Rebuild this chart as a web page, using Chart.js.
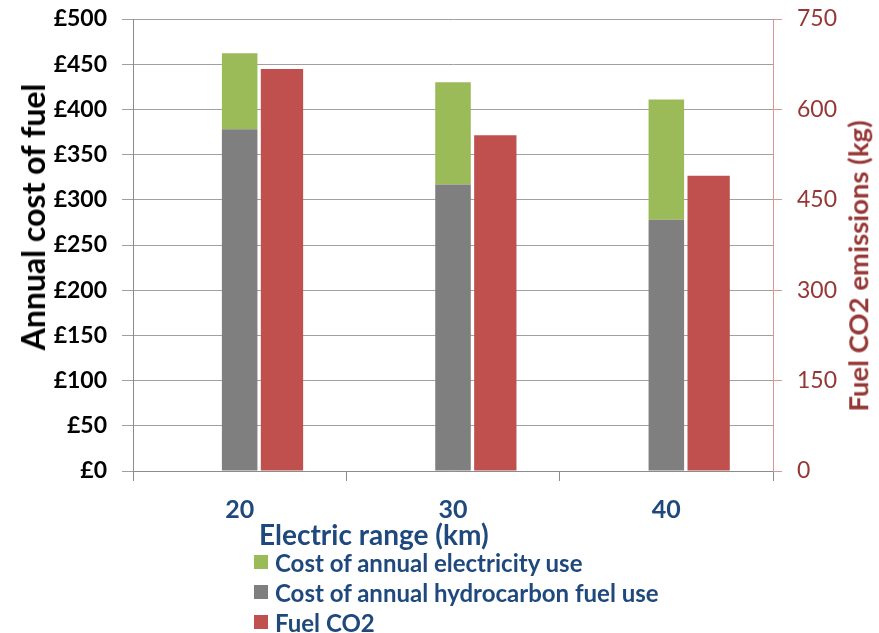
<!DOCTYPE html>
<html>
<head>
<meta charset="utf-8">
<script src="https://cdn.jsdelivr.net/npm/chart.js@4.4.1/dist/chart.umd.min.js"></script>
<style>
  html, body { margin: 0; padding: 0; background: #ffffff; }
  #wrap { position: relative; width: 879px; height: 633px; font-family: Lato, "Open Sans", sans-serif; }
  #chart { position: absolute; left: 0; top: 0; }
  .vtitle { position: absolute; white-space: nowrap; line-height: 1; font-weight: bold;
            transform: translate(-50%, -50%) rotate(-90deg); }
  #ytitle { left: 33px; top: 217px; font-size: 32px; color: #000000; }
  #y2title { left: 858px; top: 266px; font-size: 27.5px; color: #953735; }
  #xtitle { position: absolute; left: 259px; top: 520px; font-size: 28px; font-weight: bold;
            color: #1F497D; line-height: 1; white-space: nowrap; }
  #legend { position: absolute; left: 254px; top: 547px; margin: 0; padding: 0; list-style: none; }
  #legend li { height: 30px; display: flex; align-items: center; font-size: 24px; font-weight: bold;
               color: #1F497D; white-space: nowrap; }
  #legend .box { width: 14px; height: 14px; margin-right: 7px; flex: none; }
</style>
</head>
<body>
<div id="wrap">
  <canvas id="chart" width="879" height="633"></canvas>
  <div id="ytitle" class="vtitle">Annual cost of fuel</div>
  <div id="y2title" class="vtitle">Fuel CO2 emissions (kg)</div>
  <div id="xtitle">Electric range (km)</div>
  <ul id="legend"></ul>
</div>
<script>
// Electric range of the vehicle (km)
const ranges = ['20', '30', '40'];
// Annual cost (£) split into hydrocarbon fuel and electricity
const hydrocarbonCost = [378, 317, 278];
const electricityCost = [84, 113, 133];
// Annual fuel CO2 emissions (kg)
const fuelCO2 = [667, 557, 490];
// Empty slot so the cost stack sits on the category centre
const emptySlot = [0, 0, 0];

const costTicks = { min: 0, max: 500, step: 50 };
const co2Ticks = { min: 0, max: 750, step: 150 };

const GREEN = '#9BBB59', GREY = '#7F7F7F', RED = '#C0504D';
const NAVY = '#1F497D', DARK_RED = '#953735';
const FONT = 'Lato, "Open Sans", sans-serif';

const groupPct = 0.595;

// Keep the plot edges fixed regardless of tick label overhang
function fixVertical(width) {
  return s => { s.width = width; s.paddingTop = 0; s.paddingBottom = 0; };
}

const chart = new Chart(document.getElementById('chart'), {
  type: 'bar',
  data: {
    labels: ranges,
    datasets: [
      { label: '', data: emptySlot, stack: 'pad', backgroundColor: 'rgba(0,0,0,0)',
        borderWidth: 0, yAxisID: 'y', categoryPercentage: groupPct, barPercentage: 0.84, inLegend: false },
      { label: 'Cost of annual hydrocarbon fuel use', data: hydrocarbonCost, stack: 'cost',
        backgroundColor: GREY, borderWidth: 0, yAxisID: 'y',
        categoryPercentage: groupPct, barPercentage: 0.84, legendOrder: 2 },
      { label: 'Cost of annual electricity use', data: electricityCost, stack: 'cost',
        backgroundColor: GREEN, borderWidth: 0, yAxisID: 'y',
        categoryPercentage: groupPct, barPercentage: 0.84, legendOrder: 1 },
      { label: 'Fuel CO2', data: fuelCO2, stack: 'co2',
        backgroundColor: RED, borderWidth: 0, yAxisID: 'y2',
        categoryPercentage: groupPct, barPercentage: 1.0, legendOrder: 3 }
    ]
  },
  options: {
    responsive: false,
    animation: false,
    devicePixelRatio: 1,
    layout: { padding: { top: 19, left: 0, right: 0, bottom: 0 } },
    plugins: {
      legend: { display: false },
      tooltip: { enabled: false },
      title: { display: false }
    },
    scales: {
      x: {
        offset: true,
        grid: { display: true, drawOnChartArea: false, offset: true, tickLength: 10, color: '#8C8C8C' },
        border: { display: true, color: '#8C8C8C', width: 1 },
        ticks: { color: NAVY, padding: 14, font: { family: FONT, size: 25, weight: 'bold' } },
        afterFit: s => { s.height = 162; }
      },
      y: {
        position: 'left',
        min: costTicks.min, max: costTicks.max,
        grid: { color: '#A0A0A0', tickLength: 11, lineWidth: 1 },
        border: { display: true, color: '#8C8C8C', width: 1 },
        ticks: { stepSize: costTicks.step, color: '#000000', padding: 15,
                 font: { family: FONT, size: 23, weight: 'bold' },
                 callback: v => '£' + v },
        afterFit: fixVertical(133)
      },
      y2: {
        position: 'right',
        min: co2Ticks.min, max: co2Ticks.max,
        grid: { drawOnChartArea: false, color: '#DA9694', tickLength: 9 },
        border: { display: true, color: '#DA9694', width: 1 },
        ticks: { stepSize: co2Ticks.step, color: DARK_RED, padding: 15,
                 font: { family: FONT, size: 23, weight: 'normal' } },
        afterFit: fixVertical(106)
      }
    }
  }
});

// Legend listing built from the chart's own datasets
const legendEl = document.getElementById('legend');
chart.data.datasets
  .filter(ds => ds.inLegend !== false)
  .sort((a, b) => a.legendOrder - b.legendOrder)
  .forEach(ds => {
    const li = document.createElement('li');
    const box = document.createElement('span');
    box.className = 'box';
    box.style.background = ds.backgroundColor;
    const txt = document.createElement('span');
    txt.textContent = ds.label;
    li.appendChild(box);
    li.appendChild(txt);
    legendEl.appendChild(li);
  });
</script>
</body>
</html>
